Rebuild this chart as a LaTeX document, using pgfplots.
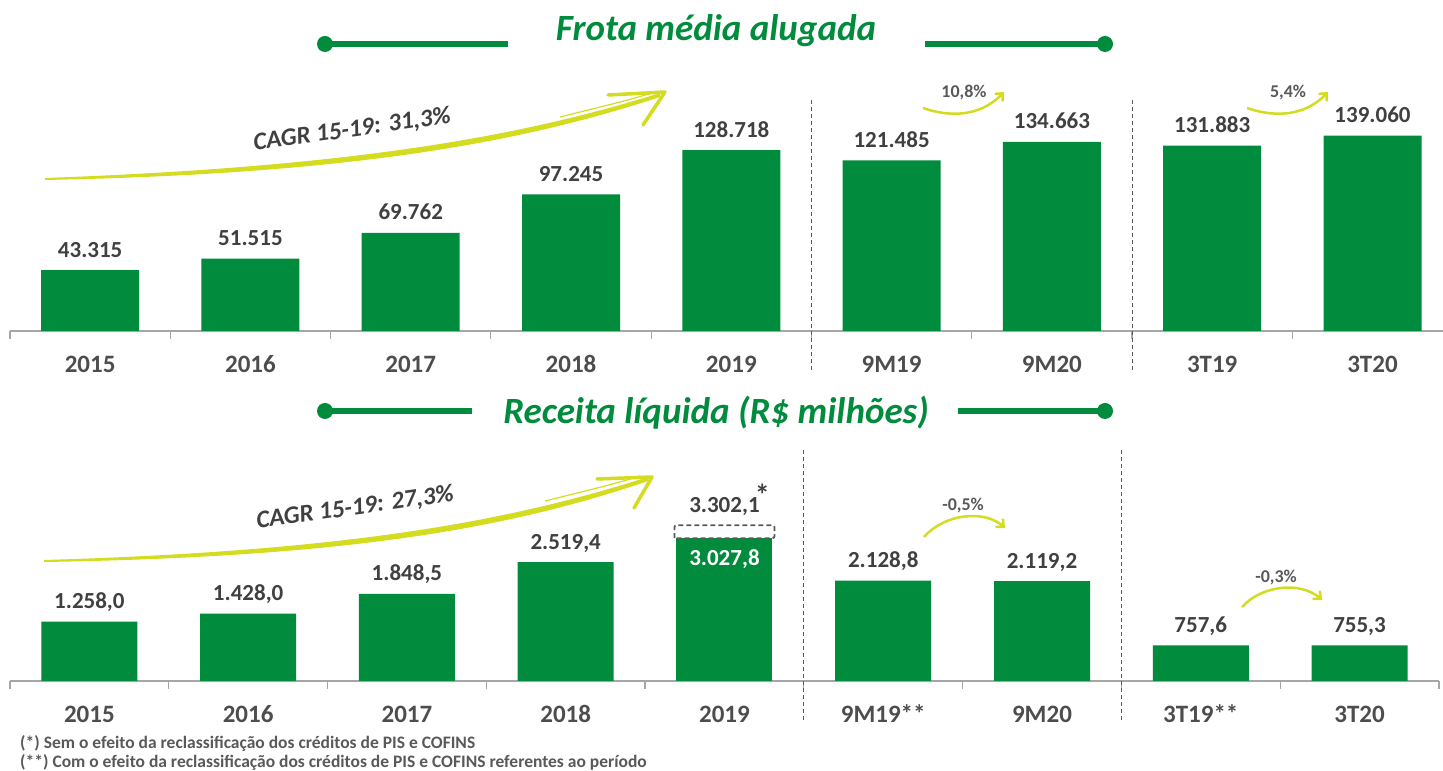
\documentclass[border=0pt]{standalone}
\usepackage{fontspec}
\setmainfont{Carlito}
\usepackage{pgfplots}
\pgfplotsset{compat=1.18}
\usepackage{pgfplotstable}
\usetikzlibrary{arrows.meta}
\definecolor{bargreen}{HTML}{008B3D}
\definecolor{txtgrey}{HTML}{404040}
\definecolor{lblgrey}{HTML}{4D4D4D}
\definecolor{axgrey}{HTML}{A6A6A6}
\definecolor{swoosh}{HTML}{D3DC1F}
\definecolor{sepgrey}{HTML}{595959}

\pgfplotstableread{
x y label
0 43315 43.315
1 51515 51.515
2 69762 69.762
3 97245 97.245
4 128718 128.718
5 121485 121.485
6 134663 134.663
7 131883 131.883
8 139060 139.060
}\frota

\pgfplotstableread{
x y label
0 1258.0 1.258,0
1 1428.0 1.428,0
2 1848.5 1.848,5
3 2519.4 2.519,4
5 2128.8 2.128,8
6 2119.2 2.119,2
7 757.6 757,6
8 755.3 755,3
}\receita

\pgfplotsset{
  mybars/.style={
    scale only axis, clip=false,
    axis x line*=bottom, axis y line=none,
    x axis line style={draw=axgrey, line width=1.5pt},
    xmin=-0.5, ymin=0,
    xtick={0,...,8}, major tick length=0pt,
    minor xtick={-0.5,0.5,...,8.5}, minor tick length=8pt, tick align=outside,
    minor tick style={draw=axgrey, line width=1.2pt},
    ytick=\empty,
    xticklabel style={font=\fontsize{25}{28}\selectfont\bfseries, text=lblgrey, anchor=base, inner sep=0pt, yshift=-42pt},
    every node near coord/.append style={font=\fontsize{23}{26}\selectfont\bfseries, text=txtgrey, anchor=base, inner sep=0pt, yshift=13pt},
  },
}

\begin{document}
\begin{tikzpicture}
\path[use as bounding box] (0pt,0pt) rectangle (1443pt,771pt);

% ---------- top chart ----------
\begin{axis}[mybars, at={(10pt,440pt)}, anchor=south west,
  width=1433pt, height=236pt, xmax=8.44, ymax=168000,
  xticklabels={2015,2016,2017,2018,2019,9M19,9M20,3T19,3T20}]
\addplot[ybar, bar shift=0pt, bar width=98pt, fill=bargreen, draw=none,
  nodes near coords, point meta=explicit symbolic]
  table[x=x, y=y, meta=label] {\frota};
\draw[sepgrey, line width=1pt, dash pattern=on 4pt off 3pt] (axis cs:4.5,0) ++(0pt,-39pt) -- (axis cs:4.5,166000);
\draw[sepgrey, line width=1pt, dash pattern=on 4pt off 3pt] (axis cs:6.5,0) ++(0pt,-39pt) -- (axis cs:6.5,166000);
\end{axis}

% ---------- bottom chart ----------
\begin{axis}[mybars, at={(10pt,90pt)}, anchor=south west,
  width=1429pt, height=233pt, xmax=8.5, ymax=4940,
  xticklabels={2015,2016,2017,2018,2019,9M19**,9M20,3T19**,3T20}]
\addplot[ybar, bar shift=0pt, bar width=96pt, fill=bargreen, draw=none,
  nodes near coords, point meta=explicit symbolic]
  table[x=x, y=y, meta=label] {\receita};
\addplot[ybar, bar shift=0pt, bar width=96pt, fill=bargreen, draw=none]
  coordinates {(4,3027.8)};
\addplot[sepgrey, line width=1.8pt, dash pattern=on 5pt off 3pt, rounded corners=2pt, mark=none, sharp plot]
  coordinates {(3.685,3027.8) (3.685,3302.1) (4.315,3302.1) (4.315,3027.8) (3.685,3027.8)};
\node[anchor=base, inner sep=0pt, text=white, font=\fontsize{23}{26}\selectfont\bfseries]
  at ([yshift=-27pt]axis cs:4,3027.8) {3.027,8};
\node[anchor=base, inner sep=0pt, text=txtgrey, font=\fontsize{23}{26}\selectfont\bfseries]
  at ([yshift=13pt]axis cs:4,3302.1) {3.302,1};
\node[inner sep=0pt, text=txtgrey, font=\fontsize{30}{32}\selectfont\bfseries]
  at ([xshift=38pt,yshift=30pt]axis cs:4,3302.1) {*};
\draw[sepgrey, line width=1pt, dash pattern=on 4pt off 3pt] (axis cs:4.5,0) ++(0pt,-39pt) -- (axis cs:4.5,4940);
\draw[sepgrey, line width=1pt, dash pattern=on 4pt off 3pt] (axis cs:6.5,0) ++(0pt,-39pt) -- (axis cs:6.5,4940);
\end{axis}

% ---------- annotations (pixel frame, y down) ----------
\begin{scope}[shift={(0pt,771pt)}, x=1pt, y=-1pt]
  % titles
  \node[anchor=base, inner sep=0pt, text=bargreen, font=\fontsize{37}{42}\selectfont\bfseries\itshape] at (716,41) {Frota média alugada};
  \draw[bargreen, line width=6pt] (325,44) -- (508,44);
  \fill[bargreen] (325,44) circle (8);
  \draw[bargreen, line width=6pt] (925,44) -- (1105,44);
  \fill[bargreen] (1105,44) circle (8);

  \node[anchor=base, inner sep=0pt, text=bargreen, font=\fontsize{37}{42}\selectfont\bfseries\itshape] at (716,424) {Receita líquida (R\$ milhões)};
  \draw[bargreen, line width=6pt] (325,411) -- (472,411);
  \fill[bargreen] (325,411) circle (8);
  \draw[bargreen, line width=6pt] (958,411) -- (1105,411);
  \fill[bargreen] (1105,411) circle (8);

  % CAGR swoosh top
  \fill[swoosh] (45,178) .. controls (350,167) and (520,137) .. (660,93) -- (660,97) .. controls (520,143) and (350,174) .. (45,180) -- cycle;
  \draw[swoosh, line width=1.2pt] (560,117) .. controls (600,107) and (630,100) .. (655,92);
  \draw[swoosh, line width=3.5pt, line cap=round, line join=round] (608,95) -- (665,92) -- (643,125);
  \node[rotate=8, inner sep=0pt, text=txtgrey, font=\fontsize{25}{30}\selectfont\bfseries\itshape] at (352,130) {CAGR 15-19: 31,3\%};

  % CAGR swoosh bottom
  \fill[swoosh] (44,560) .. controls (350,551) and (510,521) .. (648,477) -- (648,481) .. controls (510,528) and (350,557) .. (44,562) -- cycle;
  \draw[swoosh, line width=1.2pt] (545,501) .. controls (585,491) and (615,484) .. (640,476);
  \draw[swoosh, line width=3.5pt, line cap=round, line join=round] (597,479) -- (652,477) -- (634,508);
  \node[rotate=8, inner sep=0pt, text=txtgrey, font=\fontsize{25}{30}\selectfont\bfseries\itshape] at (355,508) {CAGR 15-19: 27,3\%};

  % small arrows top
  \draw[swoosh, line width=2.5pt, -{Straight Barb[length=6pt, width=11pt]}] (923,108) .. controls (958,120) and (985,112) .. (1004,92);
  \node[anchor=base, inner sep=0pt, text=sepgrey, font=\fontsize{18}{20}\selectfont\bfseries] at (964,98) {10,8\%};
  \draw[swoosh, line width=2.5pt, -{Straight Barb[length=6pt, width=11pt]}] (1247,108) .. controls (1282,120) and (1309,112) .. (1328,92);
  \node[anchor=base, inner sep=0pt, text=sepgrey, font=\fontsize{18}{20}\selectfont\bfseries] at (1288,98) {5,4\%};

  % small arrows bottom
  \draw[swoosh, line width=2.5pt, -{Straight Barb[length=6pt, width=11pt]}] (924,537) .. controls (945,513) and (985,510) .. (1005,528);
  \node[anchor=base, inner sep=0pt, text=sepgrey, font=\fontsize{18}{20}\selectfont\bfseries] at (963,511) {-0,5\%};
  \draw[swoosh, line width=2.5pt, -{Straight Barb[length=6pt, width=11pt]}] (1242,607) .. controls (1263,584) and (1302,582) .. (1322,600);
  \node[anchor=base, inner sep=0pt, text=sepgrey, font=\fontsize{18}{20}\selectfont\bfseries] at (1276,583) {-0,3\%};

  % footnotes
  \node[anchor=base west, inner sep=0pt, text=sepgrey, font=\fontsize{17.5}{19}\selectfont\bfseries] at (20,749) {(*) Sem o efeito da reclassificação dos créditos de PIS e COFINS};
  \node[anchor=base west, inner sep=0pt, text=sepgrey, font=\fontsize{17.5}{19}\selectfont\bfseries] at (20,768) {(**) Com o efeito da reclassificação dos créditos de PIS e COFINS referentes ao período};
\end{scope}
\end{tikzpicture}
\end{document}
